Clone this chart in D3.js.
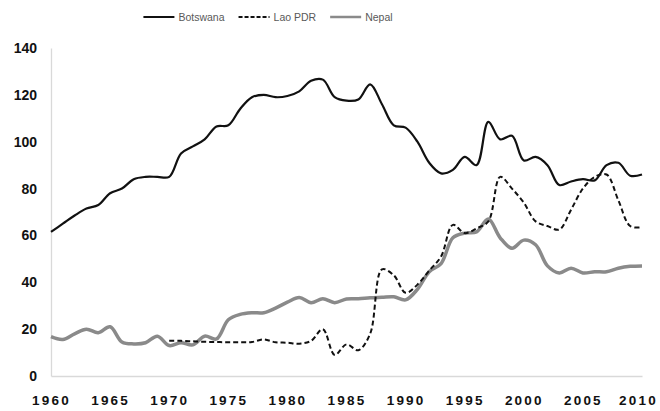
<!DOCTYPE html>
<html>
<head>
<meta charset="utf-8">
<script src="https://cdn.jsdelivr.net/npm/d3@7"></script>
<style>
  body { margin: 0; background: #fff; }
  svg { display: block; }
</style>
</head>
<body>
<div id="chart"></div>
<script>
// data
var years = d3.range(1960, 2011);

var botswana = [61.5, 65, 68.5, 71.5, 73, 78, 80, 84, 85, 85,
  85, 95, 98, 101, 106.5, 107, 114, 119, 120, 119,
  119.5, 121.5, 126, 126.5, 119, 117.5, 118, 124.5, 116, 107,
  106, 100, 91, 86.5, 88, 93.5, 90, 108.5, 101, 102.5,
  92, 93.5, 90, 81.5, 83, 84, 83.5, 90, 91, 85.5, 86];

var laoYears = d3.range(1970, 2011);
var lao = [15, 15, 14.8, 14.6, 14.5, 14.4, 14.4, 14.5, 15.6, 14.4,
  14.2, 13.8, 15, 20, 9, 13.5, 11, 18, 45.5, 43,
  35.5, 39, 45, 51, 64.5, 61, 63, 66, 85, 80,
  74, 66, 64, 62.5, 71, 80, 85, 86, 75, 64, 63.5];

var nepal = [16.8, 15.6, 18, 20, 18.5, 21, 14.5, 13.7, 14.2, 17,
  13, 14.2, 13.3, 17, 15.8, 24, 26.3, 27, 27, 29,
  31.5, 33.5, 31.3, 33, 31.3, 32.9, 33, 33.4, 33.6, 33.8,
  32.5, 37, 44.5, 48, 59, 61, 61.5, 67, 59, 54.5,
  58, 56, 47, 44, 46, 44, 44.5, 44.5, 46, 46.8, 47];

var yTicks = [0, 20, 40, 60, 80, 100, 120, 140];
var xTicks = [1960, 1965, 1970, 1975, 1980, 1985, 1990, 1995, 2000, 2005, 2010];

var seriesNames = ["Botswana", "Lao PDR", "Nepal"];

////////////////////////////////////////

var width = 660, height = 411;
var plotLeft = 51, plotRight = 642, plotTop = 48, plotBottom = 376;

var svg = d3.select("#chart").append("svg")
    .attr("width", width)
    .attr("height", height);

var x = d3.scaleLinear().domain([1960, 2010]).range([plotLeft, plotRight]);
var y = d3.scaleLinear().domain([0, 140]).range([plotBottom, plotTop]);

// axes
var yAxis = svg.append("g")
    .attr("transform", "translate(" + plotLeft + ",0)")
    .call(d3.axisLeft(y).tickValues(yTicks).tickSize(0).tickPadding(14));
yAxis.select(".domain").attr("stroke", "#d9d9d9").attr("stroke-width", 1.3);
yAxis.selectAll("text")
    .style("font-family", "'Liberation Sans', Arial, sans-serif")
    .style("font-weight", "bold")
    .style("font-size", "14px")
    .attr("fill", "#111");

var xAxis = svg.append("g")
    .attr("transform", "translate(0," + plotBottom + ")")
    .call(d3.axisBottom(x).tickValues(xTicks).tickFormat(d3.format("d")).tickSize(0).tickPadding(19));
xAxis.select(".domain").attr("stroke", "#d9d9d9").attr("stroke-width", 1.3);
xAxis.selectAll("text")
    .style("font-family", "'Liberation Sans', Arial, sans-serif")
    .style("font-weight", "bold")
    .style("font-size", "13.5px")
    .style("letter-spacing", "2.2px")
    .attr("fill", "#111");
// keep the last year inside the window
xAxis.selectAll(".tick").filter(function (d) { return d === 2010; })
    .select("text").attr("dx", -4);

// lines
var line = d3.line()
    .x(function (d) { return x(d[0]); })
    .y(function (d) { return y(d[1]); })
    .curve(d3.curveCatmullRom.alpha(0.5));

var styles = [
  { color: "#111", width: 2.2, dash: null },
  { color: "#111", width: 2, dash: "5,3" },
  { color: "#8a8a8a", width: 3.5, dash: null }
];

var data = [
  d3.zip(years, botswana),
  d3.zip(laoYears, lao),
  d3.zip(years, nepal)
];

var drawOrder = [2, 1, 0];
drawOrder.forEach(function (i) {
  svg.append("path")
      .datum(data[i])
      .attr("fill", "none")
      .attr("stroke", styles[i].color)
      .attr("stroke-width", styles[i].width)
      .attr("stroke-dasharray", styles[i].dash)
      .attr("stroke-linejoin", "round")
      .attr("d", line);
});

// legend
var legend = svg.append("g");
var lx = 0;
seriesNames.forEach(function (name, i) {
  var g = legend.append("g").attr("transform", "translate(" + lx + ",0)");
  g.append("line")
      .attr("x1", 0).attr("x2", 31)
      .attr("y1", 0).attr("y2", 0)
      .attr("stroke", styles[i].color)
      .attr("stroke-width", i === 2 ? 2.5 : 2)
      .attr("stroke-dasharray", styles[i].dash ? "4,2" : null);
  var t = g.append("text")
      .attr("x", 35).attr("y", 4)
      .style("font-family", "'Liberation Sans', Arial, sans-serif")
      .style("font-size", "10.5px")
      .attr("fill", "#595959")
      .text(name);
  lx += 35 + t.node().getComputedTextLength() + 14;
});
lx -= 14;
legend.attr("transform", "translate(" + (268 - lx / 2) + ",17)");
</script>
</body>
</html>
